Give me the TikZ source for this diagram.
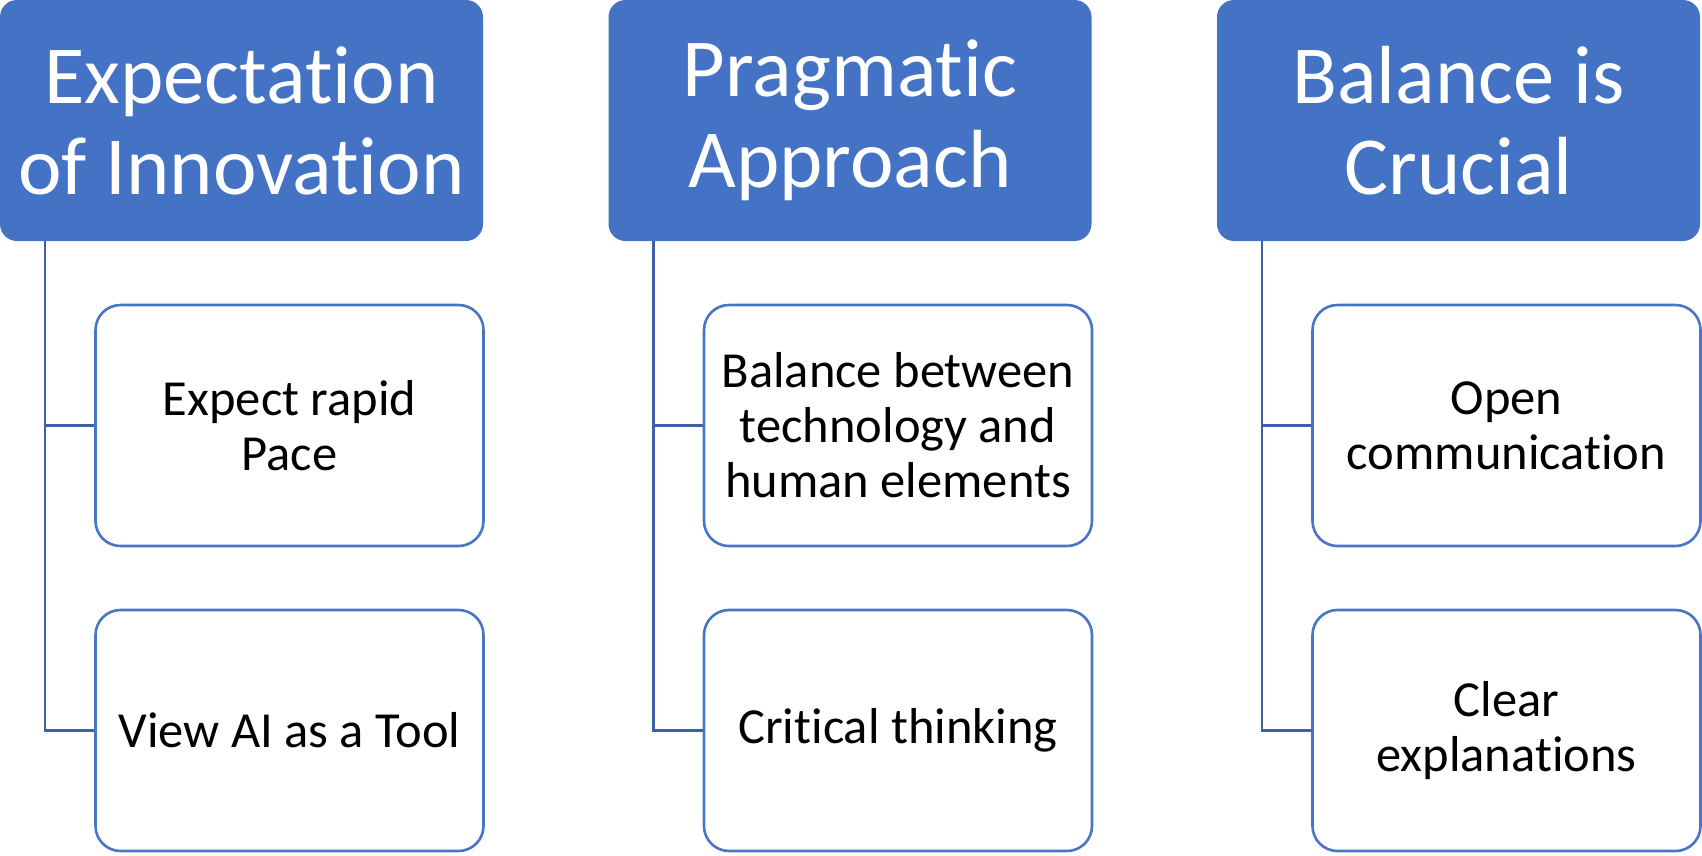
\documentclass[tikz,border=0pt]{standalone}
\usepackage{fontspec}
\setmainfont[RawFeature={-liga;-clig}]{Carlito}
\definecolor{hdrblue}{RGB}{68,114,196}
\definecolor{boxblue}{RGB}{72,118,198}
\definecolor{linkblue}{RGB}{61,96,166}
\begin{document}
\begin{tikzpicture}[x=1pt,y=-1pt,
  header/.style={rectangle, rounded corners=17pt, fill=hdrblue, text=white,
    minimum width=483pt, minimum height=241pt, align=center, inner sep=0pt,
    font=\fontsize{82.5}{91}\selectfont},
  child/.style={rectangle, rounded corners=25pt, draw=boxblue, line width=2.6pt, fill=white,
    minimum width=388pt, minimum height=241pt, align=center, inner sep=0pt,
    font=\fontsize{50.5}{55}\selectfont},
  link/.style={draw=linkblue, line width=2.8pt}]
\useasboundingbox (0,0) rectangle (1702,855);
% column 1
\node[header] (h0) at (241.5,120.5) {Expectation\\of Innovation};
\node[child] (a0) at (289.5,425.5) {Expect rapid\\Pace};
\node[child] (b0) at (289.5,730.5) {View AI as a Tool};
\coordinate (v0) at (45,241);
% column 2
\node[header] (h1) at (850,120.5) {Pragmatic\\Approach};
\node[child] (a1) at (898,425.5) {Balance between\\technology and\\human elements};
\node[child] (b1) at (898,730.5) {Critical thinking};
\coordinate (v1) at (653.5,241);
% column 3
\node[header] (h2) at (1458.5,120.5) {Balance is\\Crucial};
\node[child] (a2) at (1506.5,425.5) {Open\\communication};
\node[child] (b2) at (1506.5,730.5) {Clear\\explanations};
\coordinate (v2) at (1262,241);
% connectors
\foreach \c in {0,1,2}{
  \draw[link] (v\c) |- (b\c.west);
  \draw[link] (v\c |- a\c.west) -- (a\c.west);
}
\end{tikzpicture}
\end{document}
